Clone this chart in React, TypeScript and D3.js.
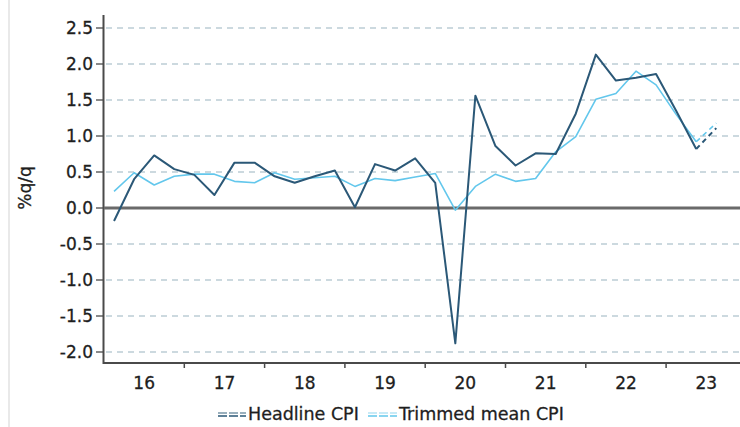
import React from "react";
import * as d3 from "d3";

const yearLabels = ["16", "17", "18", "19", "20", "21", "22", "23"];
const yTicks = [-2.0, -1.5, -1.0, -0.5, 0.0, 0.5, 1.0, 1.5, 2.0, 2.5];

// Quarterly % change, 2016 Q1 .. 2023 Q2 (actual)
const headline = [
  -0.18, 0.4, 0.73, 0.54, 0.46, 0.18, 0.63, 0.63, 0.44, 0.35, 0.44, 0.52,
  0.01, 0.61, 0.52, 0.69, 0.35, -1.88, 1.56, 0.86, 0.59, 0.76, 0.75, 1.31,
  2.13, 1.77, 1.81, 1.86, 1.35, 0.82,
];
const trimmed = [
  0.23, 0.49, 0.32, 0.44, 0.47, 0.47, 0.37, 0.35, 0.49, 0.4, 0.42, 0.44,
  0.3, 0.41, 0.38, 0.43, 0.48, -0.03, 0.3, 0.47, 0.37, 0.41, 0.78, 0.99,
  1.51, 1.59, 1.9, 1.71, 1.3, 0.92,
];
// Forecast segment: 2023 Q2 -> 2023 Q3
const headlineForecast = [0.82, 1.11];
const trimmedForecast = [0.92, 1.18];

const W = 740;
const H = 427;
const FONT = "'DejaVu Sans', Verdana, sans-serif";
const HEAD_COLOR = "#2b5877";
const TRIM_COLOR = "#63c7ec";
const TEXT = "#1e1e1e";

export default function App() {
  const x = d3.scaleLinear().domain([2016, 2024]).range([104, 746.4]);
  const y = d3.scaleLinear().domain([0, 2.5]).range([208, 28]);
  const qx = (i: number) => x(2016 + (i + 0.5) / 4);

  const line = d3
    .line<number>()
    .x((_, i) => qx(i))
    .y((d) => y(d));
  const fLine = (start: number) =>
    d3
      .line<number>()
      .x((_, i) => qx(start + i))
      .y((d) => y(d));

  const last = headline.length - 1;
  const plotRight = W;
  const axisBottom = 363;
  const textStyle = { stroke: TEXT, strokeWidth: 0.3 };

  return (
    <svg
      width={W}
      height={H}
      style={{ position: "absolute", left: 0, top: 0, background: "#fff" }}
      fontFamily={FONT}
    >
      <rect x={0} y={0} width={W} height={H} fill="#fff" />
      <line x1={9} x2={9} y1={0} y2={H} stroke="#e2e2e2" strokeWidth={1.5} />

      {/* gridlines */}
      {yTicks
        .filter((t) => t !== 0)
        .map((t) => (
          <line
            key={"g" + t}
            x1={106}
            x2={plotRight}
            y1={y(t)}
            y2={y(t)}
            stroke="#bccdd5"
            strokeWidth={1.3}
            strokeDasharray="6,5"
          />
        ))}

      {/* y axis */}
      <line x1={103.5} x2={103.5} y1={15} y2={axisBottom + 1} stroke="#4a4a4a" strokeWidth={2} />
      {yTicks.map((t) => (
        <g key={"yt" + t}>
          <line x1={96} x2={104} y1={y(t)} y2={y(t)} stroke="#4a4a4a" strokeWidth={1.3} />
          <text
            x={93}
            y={y(t)}
            dy="0.35em"
            textAnchor="end"
            fontSize={17}
            fill={TEXT}
            style={textStyle}
          >
            {t.toFixed(1)}
          </text>
        </g>
      ))}
      <text
        transform={`translate(31,188) rotate(-90)`}
        textAnchor="middle"
        fontSize={17}
        fill={TEXT}
        style={textStyle}
      >
        %q/q
      </text>

      {/* zero line */}
      <line x1={104} x2={plotRight} y1={y(0)} y2={y(0)} stroke="#6a6a6a" strokeWidth={3} />

      {/* x axis */}
      <line x1={103} x2={plotRight} y1={axisBottom} y2={axisBottom} stroke="#4a4a4a" strokeWidth={2} />
      {yearLabels.map((lab, k) => (
        <g key={"xt" + lab}>
          {k < yearLabels.length - 1 && (
            <line
              x1={x(2017 + k)}
              x2={x(2017 + k)}
              y1={axisBottom}
              y2={axisBottom + 5}
              stroke="#4a4a4a"
              strokeWidth={1.5}
            />
          )}
          <text
            x={x(2016 + k + 0.5)}
            y={389}
            textAnchor="middle"
            fontSize={17}
            fill={TEXT}
            style={textStyle}
          >
            {lab}
          </text>
        </g>
      ))}

      {/* series */}
      <path d={line(trimmed) || ""} fill="none" stroke={TRIM_COLOR} strokeWidth={1.6} strokeLinejoin="round" />
      <path d={line(headline) || ""} fill="none" stroke={HEAD_COLOR} strokeWidth={2} strokeLinejoin="round" />
      <path
        d={fLine(last)(trimmedForecast) || ""}
        fill="none"
        stroke={TRIM_COLOR}
        strokeWidth={1.6}
        strokeDasharray="5,4"
      />
      <path
        d={fLine(last)(headlineForecast) || ""}
        fill="none"
        stroke={HEAD_COLOR}
        strokeWidth={2}
        strokeDasharray="5,4"
      />

      {/* legend */}
      <g>
        <line x1={218} x2={246} y1={413} y2={413} stroke="#7a97a8" strokeWidth={1.6} strokeDasharray="9,2" />
        <line x1={218} x2={246} y1={416} y2={416} stroke={HEAD_COLOR} strokeWidth={1.6} strokeDasharray="9,2" />
        <text x={248} y={420} fontSize={17.5} fill={TEXT} style={textStyle}>
          Headline CPI
        </text>
        <line x1={368} x2={397} y1={413} y2={413} stroke="#b6e3f4" strokeWidth={1.6} strokeDasharray="9,2" />
        <line x1={368} x2={397} y1={416} y2={416} stroke={TRIM_COLOR} strokeWidth={1.6} strokeDasharray="9,2" />
        <text x={399} y={420} fontSize={17.5} fill={TEXT} style={textStyle}>
          Trimmed mean CPI
        </text>
      </g>
    </svg>
  );
}
